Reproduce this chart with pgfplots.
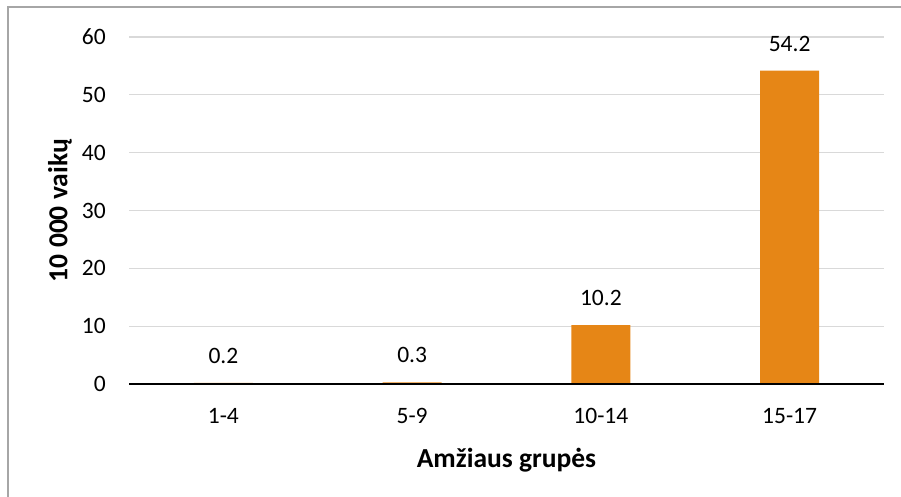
\documentclass[border=0pt]{standalone}
\usepackage{pgfplots}
\pgfplotsset{compat=1.18}
\usepackage{fontspec}
\setmainfont{Carlito}
\definecolor{barorange}{HTML}{E68616}
\definecolor{gridgray}{HTML}{D9D9D9}
\definecolor{framegray}{HTML}{A6A6A6}
\begin{document}
\fontsize{23.5bp}{28bp}\selectfont
\begin{tikzpicture}
\path[use as bounding box] (0,0) rectangle (901bp,497bp);
\draw[framegray, line width=1.5bp] (8bp,0) -- (8bp,490bp) -- (901bp,490bp);
\begin{axis}[
    at={(129bp,113bp)}, anchor=south west,
    scale only axis, width=755bp, height=347bp,
    ybar, bar width=59bp, bar shift=0pt,
    xmin=-0.5, xmax=3.5, ymin=0, ymax=60,
    xtick=data, xticklabels={1-4,5-9,10-14,15-17},
    ytick={0,10,...,60},
    major tick length=0pt,
    axis line style={draw=none},
    ymajorgrids, grid style={gridgray, line width=1.3bp},
    yticklabel style={inner sep=0pt, anchor=east, xshift=-23bp},
    xticklabel style={inner sep=0pt, anchor=north, yshift=-24bp},
    /pgf/number format/assume math mode=true,
    nodes near coords={\pgfmathprintnumber[fixed, precision=1, assume math mode=true]{\pgfplotspointmeta}},
    every node near coord/.append style={inner sep=0pt, anchor=south, yshift=19bp, black},
    xlabel={Amžiaus grupės},
    ylabel={10 000 vaikų},
    label style={font=\fontsize{27.5bp}{32bp}\selectfont\bfseries},
    xlabel style={at={(axis description cs:0.5,-0.219)}, anchor=center},
    ylabel style={at={(axis description cs:-0.0914,0.5)}, anchor=center, rotate=0},
    clip=false,
]
\addplot[fill=barorange, draw=none] coordinates {(0,0.2) (1,0.3) (2,10.2) (3,54.2)};
\draw[black, line width=1.5bp] (axis cs:-0.5,0) -- (axis cs:3.5,0);
\end{axis}
\end{tikzpicture}
\end{document}
